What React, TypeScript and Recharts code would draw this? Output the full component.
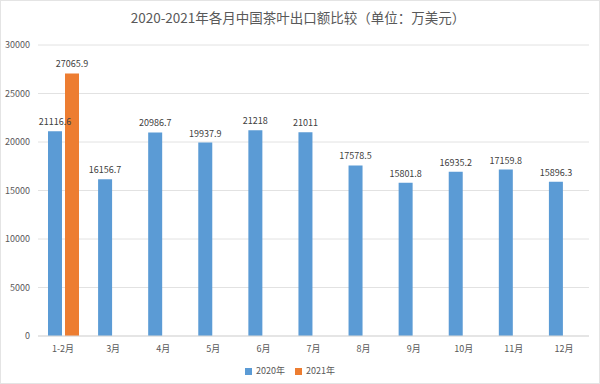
import { BarChart, Bar, XAxis, YAxis, CartesianGrid, Legend, LabelList } from "recharts";

const months = ["1-2月", "3月", "4月", "5月", "6月", "7月", "8月", "9月", "10月", "11月", "12月"];
const values2020 = [21116.6, 16156.7, 20986.7, 19937.9, 21218, 21011, 17578.5, 15801.8, 16935.2, 17159.8, 15896.3];
const values2021: (number | null)[] = [27065.9, null, null, null, null, null, null, null, null, null, null];
const yTicks = [0, 5000, 10000, 15000, 20000, 25000, 30000];

const chartData = months.map((month, i) => ({
  month,
  y2020: values2020[i],
  y2021: values2021[i],
}));

const font = "'Noto Sans CJK SC', 'Noto Sans', sans-serif";

export default function App() {
  return (
    <div
      style={{
        position: "absolute",
        left: 0,
        top: 0,
        width: 600,
        height: 384,
        background: "#fff",
        boxSizing: "border-box",
        border: "1px solid #e4e4e4",
        fontFamily: font,
      }}
    >
      <div
        style={{
          position: "absolute",
          top: 6,
          left: 0,
          width: 594,
          textAlign: "center",
          fontSize: 13.5,
          color: "#595959",
        }}
      >
        2020-2021年各月中国茶叶出口额比较（单位：万美元）
      </div>
      <BarChart
        width={598}
        height={382}
        data={chartData}
        margin={{ top: 44, right: 10, bottom: 4, left: 0 }}
        barSize={14}
        barGap={3}
      >
        <CartesianGrid vertical={false} stroke="#e2e2e2" />
        <XAxis
          dataKey="month"
          tickLine={false}
          axisLine={{ stroke: "#d9d9d9" }}
          tick={{ fill: "#595959", fontSize: 9, fontFamily: font }}
          tickMargin={4}
        />
        <YAxis
          width={37}
          domain={[0, 30000]}
          ticks={yTicks}
          tickLine={false}
          axisLine={false}
          tick={{ fill: "#595959", fontSize: 9, fontFamily: font }}
        />
        <Legend
          verticalAlign="bottom"
          iconType="square"
          iconSize={7}
          wrapperStyle={{ fontSize: 9, fontFamily: font, color: "#595959", bottom: 6 }}
          formatter={(value) => <span style={{ color: "#595959" }}>{value}</span>}
        />
        <Bar dataKey="y2020" name="2020年" fill="#5B9BD5" isAnimationActive={false}>
          <LabelList dataKey="y2020" position="top" offset={6} style={{ fill: "#404040", fontSize: 9, fontFamily: font }} />
        </Bar>
        <Bar dataKey="y2021" name="2021年" fill="#ED7D31" isAnimationActive={false}>
          <LabelList dataKey="y2021" position="top" offset={6} style={{ fill: "#404040", fontSize: 9, fontFamily: font }} />
        </Bar>
      </BarChart>
    </div>
  );
}
